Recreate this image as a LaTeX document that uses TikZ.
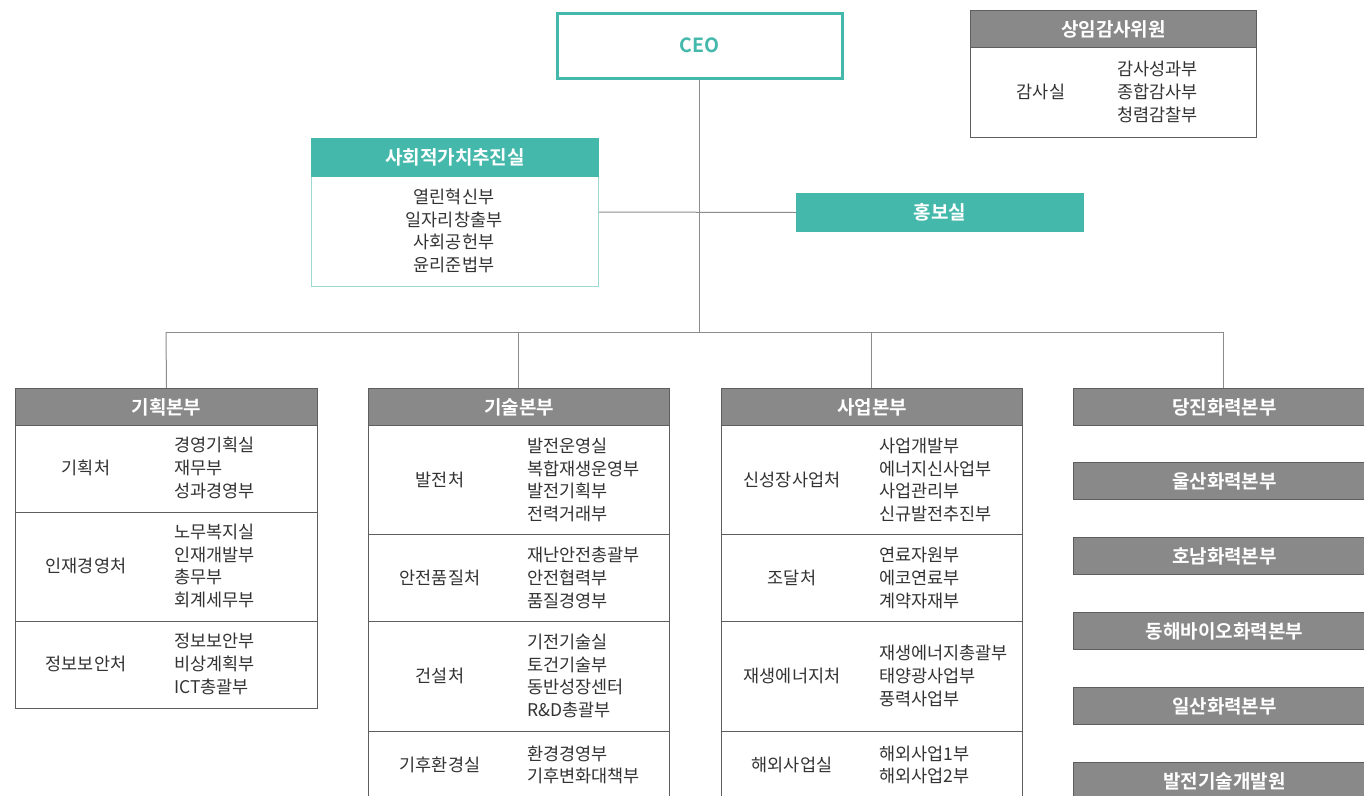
\documentclass[tikz,border=0pt]{standalone}
\usepackage{fontspec}
\setmainfont{Noto Sans CJK KR}[BoldFont={Noto Sans CJK KR Bold}]
\definecolor{teal1}{HTML}{45B8AC}
\definecolor{teallight}{HTML}{9ED8D2}
\definecolor{hdrgray}{HTML}{898989}
\definecolor{bordgray}{HTML}{5E5E5E}
\definecolor{linegray}{HTML}{8C8C8C}
\definecolor{txt}{HTML}{333333}
\tikzset{
  box/.style={draw=bordgray, line width=1pt, inner sep=0pt, anchor=north west, fill=white},
  hdr/.style={box, fill=hdrgray, text=white, font=\bfseries\fontsize{19}{22}\selectfont},
  lab/.style={inner sep=0pt, text=txt, font=\fontsize{17.5}{22.7}\selectfont},
  lst/.style={inner sep=0pt, text=txt, anchor=west, align=left, font=\fontsize{17.5}{22.7}\selectfont},
  conn/.style={draw=linegray, line width=1pt},
}
\begin{document}
\begin{tikzpicture}[x=1pt,y=-1pt]
\useasboundingbox (0,0) rectangle (1364,795);

% CEO
\node[draw=teal1, line width=3pt, inner sep=0pt, anchor=north west, minimum width=285, minimum height=65, text=teal1, font=\bfseries\fontsize{19.5}{22}\selectfont] (ceo) at (555.5,11.5) {CEO};

% connectors
\coordinate (bus) at (698,332);
\coordinate (b1) at (166,332);
\coordinate (b2) at (518,332);
\coordinate (b3) at (871,332);
\coordinate (b4) at (1223,332);

% 사회적가치추진실
\node[box, draw=teallight, minimum width=287, minimum height=110] (svbody) at (311,176) {};
\node[box, draw=teal1, fill=teal1, text=white, minimum width=287, minimum height=38, font=\bfseries\fontsize{19}{22}\selectfont] (svh) at (311,138) {사회적가치추진실};
\node[lab, align=center, anchor=center] (svl) at (454,231) {열린혁신부\\일자리창출부\\사회공헌부\\윤리준법부};

% 홍보실
\node[box, draw=teal1, fill=teal1, text=white, minimum width=287, minimum height=38, font=\bfseries\fontsize{19}{22}\selectfont] (pr) at (796,193) {홍보실};

\draw[conn] (ceo.south) -- (ceo.south |- bus);
\draw[conn] (svbody.east |- 0,212) -- (pr.west);
\draw[conn] (b1) -- (b4);

% 상임감사위원
\node[box, minimum width=286, minimum height=127] (aud) at (970,10) {};
\node[hdr, minimum width=286, minimum height=37] (audh) at (970,10) {상임감사위원};
\node[lab] (audl) at (1041,92) {감사실};
\node[lst] (audr) at (1117,92) {감사성과부\\종합감사부\\청렴감찰부};

% ---------- 기획본부 ----------
\node[box, minimum width=302, minimum height=87] (r11) at (15,425) {};
\node[box, minimum width=302, minimum height=109] (r12) at (15,512) {};
\node[box, minimum width=302, minimum height=87] (r13) at (15,621) {};
\node[hdr, minimum width=302, minimum height=37] (h1) at (15,388) {기획본부};
\node[lab] (l11) at (86,468) {기획처};
\node[lst] (s11) at (174,468) {경영기획실\\재무부\\성과경영부};
\node[lab] (l12) at (86,566) {인재경영처};
\node[lst] (s12) at (174,566) {노무복지실\\인재개발부\\총무부\\회계세무부};
\node[lab] (l13) at (86,664) {정보보안처};
\node[lst] (s13) at (174,664) {정보보안부\\비상계획부\\ICT총괄부};
\draw[conn] (b1) -- (h1.north);

% ---------- 기술본부 ----------
\node[box, minimum width=301, minimum height=109] (r21) at (368,425) {};
\node[box, minimum width=301, minimum height=87] (r22) at (368,534) {};
\node[box, minimum width=301, minimum height=110] (r23) at (368,621) {};
\node[box, minimum width=301, minimum height=80] (r24) at (368,731) {};
\node[hdr, minimum width=301, minimum height=37] (h2) at (368,388) {기술본부};
\node[lab] (l21) at (440,480) {발전처};
\node[lst] (s21) at (527,480) {발전운영실\\복합재생운영부\\발전기획부\\전력거래부};
\node[lab] (l22) at (440,578) {안전품질처};
\node[lst] (s22) at (527,578) {재난안전총괄부\\안전협력부\\품질경영부};
\node[lab] (l23) at (440,676) {건설처};
\node[lst] (s23) at (527,676) {기전기술실\\토건기술부\\동반성장센터\\R\&D총괄부};
\node[lab] (l24) at (440,765) {기후환경실};
\node[lst] (s24) at (527,765) {환경경영부\\기후변화대책부};
\draw[conn] (b2) -- (b2 |- h2.north);

% ---------- 사업본부 ----------
\node[box, minimum width=301, minimum height=109] (r31) at (721,425) {};
\node[box, minimum width=301, minimum height=87] (r32) at (721,534) {};
\node[box, minimum width=301, minimum height=110] (r33) at (721,621) {};
\node[box, minimum width=301, minimum height=80] (r34) at (721,731) {};
\node[hdr, minimum width=301, minimum height=37] (h3) at (721,388) {사업본부};
\node[lab] (l31) at (792,480) {신성장사업처};
\node[lst] (s31) at (879,480) {사업개발부\\에너지신사업부\\사업관리부\\신규발전추진부};
\node[lab] (l32) at (792,578) {조달처};
\node[lst] (s32) at (879,578) {연료자원부\\에코연료부\\계약자재부};
\node[lab] (l33) at (792,676) {재생에너지처};
\node[lst] (s33) at (879,676) {재생에너지총괄부\\태양광사업부\\풍력사업부};
\node[lab] (l34) at (792,765) {해외사업실};
\node[lst] (s34) at (879,765) {해외사업1부\\해외사업2부};
\draw[conn] (b3) -- (b3 |- h3.north);

% ---------- right column ----------
\node[hdr, minimum width=302, minimum height=37] (h4) at (1073,388) {당진화력본부};
\node[hdr, minimum width=302, minimum height=37] (h5) at (1073,462) {울산화력본부};
\node[hdr, minimum width=302, minimum height=37] (h6) at (1073,537) {호남화력본부};
\node[hdr, minimum width=302, minimum height=37] (h7) at (1073,612) {동해바이오화력본부};
\node[hdr, minimum width=302, minimum height=37] (h8) at (1073,687) {일산화력본부};
\node[hdr, minimum width=302, minimum height=37] (h9) at (1073,762) {발전기술개발원};
\draw[conn] (b4) -- (b4 |- h4.north);
\end{tikzpicture}
\end{document}
